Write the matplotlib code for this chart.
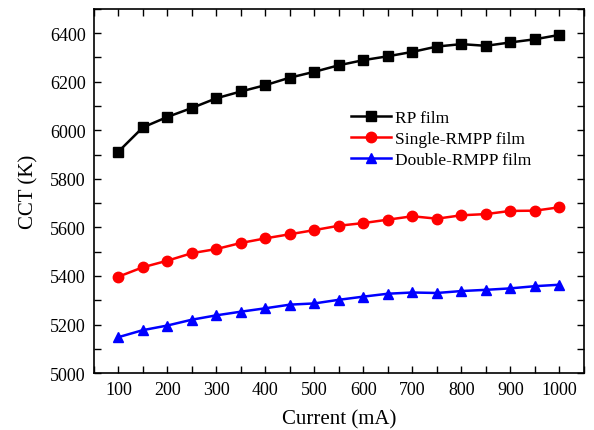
import numpy as np
import matplotlib
matplotlib.use('Agg')
import matplotlib.pyplot as plt
from matplotlib.ticker import MultipleLocator

current = [100, 150, 200, 250, 300, 350, 400, 450, 500, 550,
           600, 650, 700, 750, 800, 850, 900, 950, 1000]
rp = [5912, 6012, 6055, 6092, 6132, 6160, 6186, 6217, 6241, 6268,
      6289, 6305, 6323, 6345, 6355, 6348, 6362, 6375, 6393]
single = [5397, 5436, 5463, 5494, 5511, 5536, 5555, 5572, 5589, 5607,
          5618, 5632, 5646, 5636, 5650, 5655, 5668, 5669, 5683]
double = [5148, 5177, 5196, 5220, 5238, 5253, 5267, 5282, 5287, 5302,
          5315, 5327, 5332, 5330, 5338, 5343, 5349, 5358, 5364]

plt.rcParams['font.family'] = ['Liberation Serif', 'DejaVu Serif']

fig = plt.figure(figsize=(5.94, 4.31), dpi=100)
ax = fig.add_axes([0.158, 0.132, 0.825, 0.845])

ax.plot(current, rp, '-s', color='black', lw=1.8, ms=7, label='RP film')
ax.plot(current, single, '-o', color='red', lw=1.8, ms=7.5, label='Single-RMPP film')
ax.plot(current, double, '-^', color='blue', lw=1.8, ms=7.5, label='Double-RMPP film')

ax.set_xlim(50, 1050)
ax.set_ylim(5000, 6500)
ax.xaxis.set_major_locator(MultipleLocator(100))
ax.xaxis.set_minor_locator(MultipleLocator(50))
ax.yaxis.set_major_locator(MultipleLocator(200))
ax.yaxis.set_minor_locator(MultipleLocator(100))
ax.tick_params(which='both', direction='in', top=True, right=True, labelsize=13)
ax.tick_params(which='major', length=5, width=1, pad=6)
ax.tick_params(which='minor', length=5, width=1)
for s in ax.spines.values():
    s.set_linewidth(1.2)

ax.set_xlabel('Current (mA)', fontsize=15, labelpad=8)
ax.set_ylabel('CCT (K)', fontsize=15, labelpad=8)

ax.legend(loc='upper left', bbox_to_anchor=(0.493, 0.765), frameon=False, fontsize=12.5,
          handlelength=2.3, labelspacing=0.28, handletextpad=0.25)

fig.savefig('out.png', dpi=100)
